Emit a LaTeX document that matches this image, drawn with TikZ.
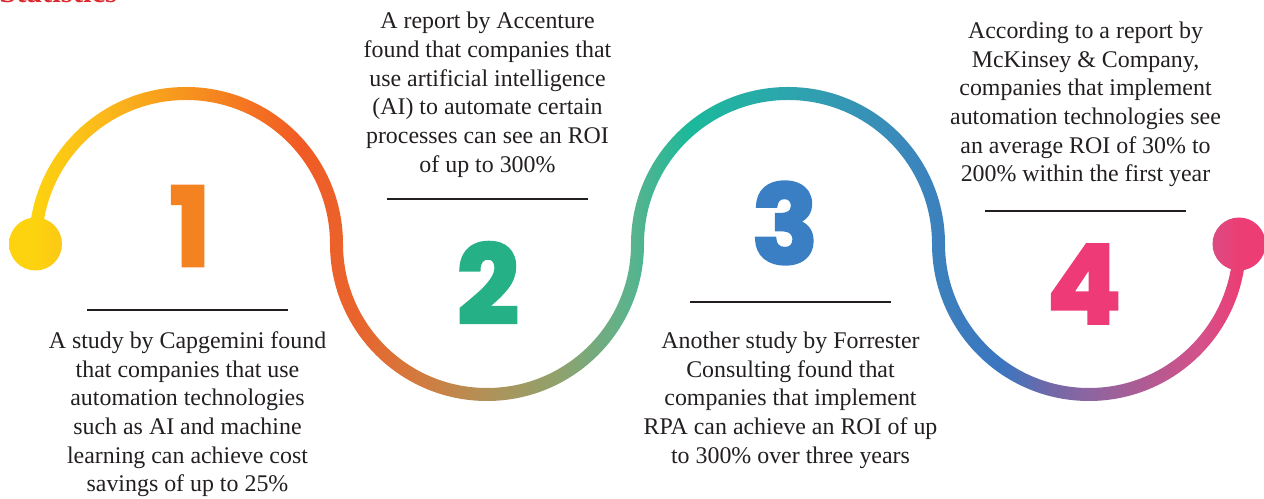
\documentclass[tikz,border=0pt]{standalone}
\usepackage{fontspec}
\setmainfont{Liberation Serif}
\newfontfamily\numfont{Poppins}[BoldFeatures={FakeBold=3}]
\usetikzlibrary{positioning}

\definecolor{txtgray}{HTML}{231F20}
\definecolor{headred}{HTML}{DA2A30}
\definecolor{numorange}{HTML}{F58220}
\definecolor{numgreen}{HTML}{26B085}
\definecolor{numblue}{HTML}{3A7FC4}
\definecolor{numpink}{HTML}{EE3A77}
\definecolor{g00}{HTML}{FDD20F}
\definecolor{g01}{HTML}{FBBA1B}
\definecolor{g02}{HTML}{F7941D}
\definecolor{g03}{HTML}{F15A24}
\definecolor{g04}{HTML}{E8652E}
\definecolor{g05}{HTML}{D27B3F}
\definecolor{g06}{HTML}{B09258}
\definecolor{g07}{HTML}{8EA26E}
\definecolor{g08}{HTML}{5BB38D}
\definecolor{g09}{HTML}{1BB99B}
\definecolor{g10}{HTML}{2DA5AD}
\definecolor{g11}{HTML}{3B89BB}
\definecolor{g12}{HTML}{3C7CBE}
\definecolor{g13}{HTML}{3A76C0}
\definecolor{g14}{HTML}{7268A8}
\definecolor{g15}{HTML}{8E65A0}
\definecolor{g16}{HTML}{B35A91}
\definecolor{g17}{HTML}{D4518A}
\definecolor{g18}{HTML}{EC3D74}

\pgfdeclarehorizontalshading{wavegrad}{100bp}{color(0bp)=(g00); color(26.38bp)=(g00);
  color(28.96bp)=(g01); color(32.32bp)=(g02); color(36.87bp)=(g03); color(39.24bp)=(g04);
  color(41.61bp)=(g05); color(44.26bp)=(g06); color(47.15bp)=(g07); color(49.92bp)=(g08);
  color(52.29bp)=(g09); color(56.25bp)=(g10); color(60.60bp)=(g11); color(62.97bp)=(g12);
  color(64.56bp)=(g13); color(66.53bp)=(g14); color(68.12bp)=(g15); color(70.49bp)=(g16);
  color(72.47bp)=(g17); color(74.05bp)=(g18); color(100bp)=(g18)}

\begin{document}
\begin{tikzpicture}[x=0.02cm,y=0.02cm,
  stat/.style={align=center,inner sep=0pt,text=txtgray,font=\fontsize{13.6}{16.3}\selectfont},
  rulebar/.style={fill=txtgray,minimum width=4.02cm,minimum height=0.052cm,inner sep=0pt},
  bignum/.style={font=\numfont\bfseries\fontsize{62}{62}\selectfont,inner sep=0pt}]
\useasboundingbox (0,0) rectangle (1264,499);
\clip (0,0) rectangle (1264,499);

\node[anchor=base west,inner sep=0pt,text=headred,font=\bfseries\fontsize{17.5}{20}\selectfont] (title) at (-1,496) {Statistics};

\begin{scope}
  \clip (29,255) arc[start angle=180,end angle=0,radius=157]
    arc[start angle=180,end angle=360,radius=144]
    arc[start angle=180,end angle=0,radius=157]
    arc[start angle=180,end angle=360,radius=144] -- ++(13,0)
    arc[start angle=0,end angle=-180,radius=157]
    arc[start angle=0,end angle=180,radius=144]
    arc[start angle=360,end angle=180,radius=157]
    arc[start angle=0,end angle=180,radius=144] -- cycle;
  \shade[shading=wavegrad] (0,0) rectangle (1264,499);
\end{scope}
\begin{scope}
  \clip (35.5,255) circle[radius=26.5] (1239,255) circle[radius=26.5];
  \shade[shading=wavegrad] (0,0) rectangle (1264,499);
\end{scope}

\node[rulebar] (rule1) at (187.5,189) {};
\node[rulebar] (rule2) at (487.5,300) {};
\node[rulebar] (rule3) at (790.5,197) {};
\node[rulebar] (rule4) at (1085.5,288) {};

\node[bignum,text=numorange] (num1) at (190,273) {1};
\node[bignum,text=numgreen] (num2) at (488,216) {2};
\node[bignum,text=numblue] (num3) at (785,276) {3};
\node[bignum,text=numpink] (num4) at (1084,215) {4};

\node[stat,below=11.3pt of rule1] (text1) {A study by Capgemini found\\that companies that use\\automation technologies\\such as AI and machine\\learning can achieve cost\\savings of up to 25\%};
\node[stat,above=11.3pt of rule2] (text2) {A report by Accenture\\found that companies that\\use artificial intelligence\\(AI) to automate certain\\processes can see an ROI\\of up to 300\%};
\node[stat,below=16pt of rule3] (text3) {Another study by Forrester\\Consulting found that\\companies that implement\\RPA can achieve an ROI of up\\to 300\% over three years};
\node[stat,above=12.5pt of rule4] (text4) {According to a report by\\McKinsey \& Company,\\companies that implement\\automation technologies see\\an average ROI of 30\% to\\200\% within the first year};
\end{tikzpicture}
\end{document}
